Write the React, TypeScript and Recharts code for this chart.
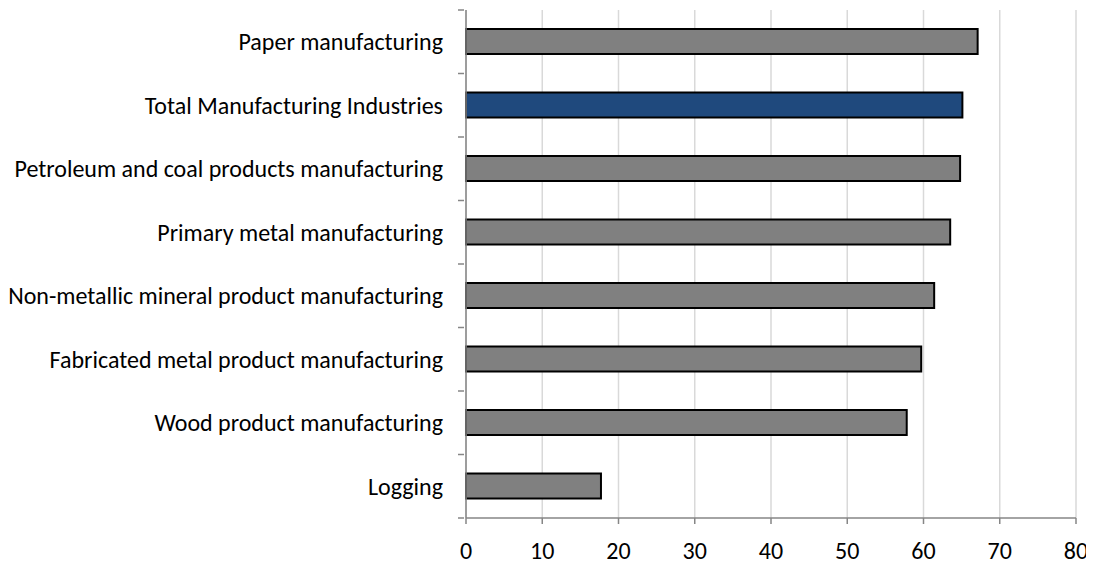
import { Bar, BarChart, CartesianGrid, Cell, XAxis, YAxis } from 'recharts';

const categories = [
  'Paper manufacturing',
  'Total Manufacturing Industries',
  'Petroleum and coal products manufacturing',
  'Primary metal manufacturing',
  'Non-metallic mineral product manufacturing',
  'Fabricated metal product manufacturing',
  'Wood product manufacturing',
  'Logging',
];
const values = [67.1, 65.1, 64.8, 63.5, 61.4, 59.7, 57.8, 17.7];
const xTicks = [0, 10, 20, 30, 40, 50, 60, 70, 80];
const highlight = 'Total Manufacturing Industries';

const data = categories.map((name, i) => ({ name, value: values[i] }));

const FONT = 'Carlito, Lato, sans-serif';
const AXIS = '#868686';

function CategoryTick(props: any) {
  const { x, y, payload, index, visibleTicksCount } = props;
  const half = payload?.offset ?? 31.7;
  const last = index === visibleTicksCount - 1;
  return (
    <g>
      <line x1={x - 6} x2={x} y1={y - half} y2={y - half} stroke={AXIS} strokeWidth={1.5} />
      {last && <line x1={x - 6} x2={x} y1={y + half} y2={y + half} stroke={AXIS} strokeWidth={1.5} />}
      <text x={x - 21} y={y} dy="0.35em" textAnchor="end" fill="#000" fontSize={24} fontFamily={FONT}>
        {payload.value}
      </text>
    </g>
  );
}

export default function App() {
  return (
    <div style={{ width: 1086, height: 557, background: '#fff' }}>
      <BarChart
        width={1086}
        height={557}
        data={data}
        layout="vertical"
        margin={{ top: 2, right: 18, bottom: 0, left: 0 }}
        barSize={25}
      >
        <CartesianGrid horizontal={false} stroke="#d9d9d9" strokeWidth={1.5} />
        <XAxis
          type="number"
          domain={[0, 80]}
          ticks={xTicks}
          interval={0}
          height={47}
          axisLine={{ stroke: AXIS, strokeWidth: 1.5 }}
          tickLine={{ stroke: AXIS, strokeWidth: 1.5 }}
          tickSize={6}
          tickMargin={18}
          tick={{ fill: '#000', fontSize: 24, fontFamily: FONT }}
        />
        <YAxis
          type="category"
          dataKey="name"
          width={458}
          interval={0}
          axisLine={{ stroke: AXIS, strokeWidth: 1.5 }}
          tickLine={false}
          tickSize={0}
          tick={<CategoryTick />}
        />
        <Bar dataKey="value" stroke="#000" strokeWidth={2} isAnimationActive={false}>
          {data.map((d) => (
            <Cell key={d.name} fill={d.name === highlight ? '#1f497d' : '#808080'} />
          ))}
        </Bar>
      </BarChart>
    </div>
  );
}
